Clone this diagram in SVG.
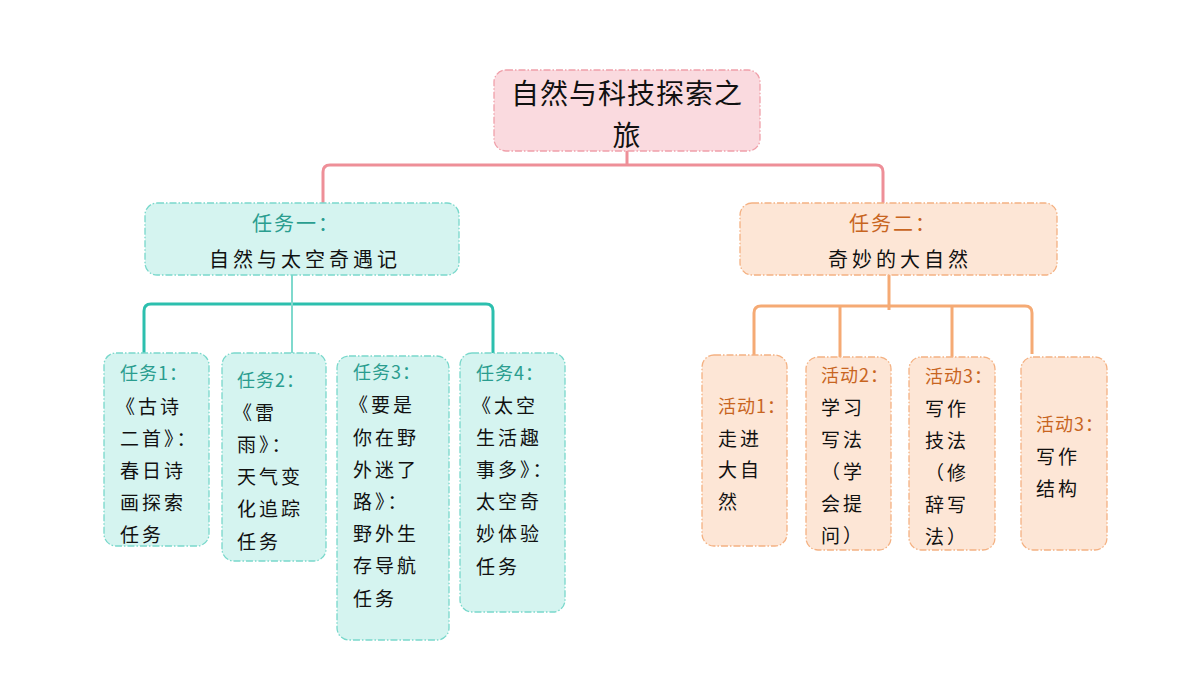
<svg xmlns="http://www.w3.org/2000/svg" width="1200" height="675" viewBox="0 0 1200 675">
<style>
text{font-family:"Noto Sans CJK SC","Noto Sans",sans-serif;dominant-baseline:central;}
.root rect{fill:#fadadf;stroke:#f0a0aa;stroke-width:1.3;stroke-dasharray:7 2 1.5 2;}
.teal rect{fill:#d5f4f0;stroke:#79d8cb;stroke-width:1.3;stroke-dasharray:7 2 1.5 2;}
.orng rect{fill:#fde6d6;stroke:#f4b182;stroke-width:1.3;stroke-dasharray:7 2 1.5 2;}
.rt{font-size:28px;fill:#111;letter-spacing:1px;}
.tt{font-size:20px;fill:#2a9d8f;letter-spacing:2px;}
.ot{font-size:20px;fill:#c8651f;letter-spacing:2px;}
.mt{font-size:20px;fill:#111;letter-spacing:4px;}
.h-t{font-size:18px;fill:#2a9d8f;letter-spacing:1px;}
.h-o{font-size:18px;fill:#c8651f;letter-spacing:1px;}
.b{font-size:19px;fill:#111;letter-spacing:3px;}
.c-p{fill:none;stroke:#ee8f98;stroke-width:3;}
.c-t{fill:none;stroke:#2cbfae;stroke-width:3;}
.c-t2{fill:none;stroke:#7fd9cd;stroke-width:2;}
.c-o{fill:none;stroke:#f5aa74;stroke-width:3;}
</style>
<rect width="1200" height="675" fill="#fff"/>
<g id="connectors">
<path class="c-p" d="M627,151 V165 M323,203 V172 Q323,165 330,165 H876 Q883,165 883,172 V203"/>
<path class="c-t" d="M144,354 V311 Q144,304 151,304 H486 Q493,304 493,311 V354"/>
<path class="c-t2" d="M292,275 V354"/>
<path class="c-o" d="M754,356 V313 Q754,306 761,306 H1025 Q1032,306 1032,313 V354 M889,275 V310 M840,306 V357 M952,306 V357"/>
</g>
<g id="root" class="root">
<rect x="494" y="70" width="266" height="81" rx="12"/>
<text class="rt" x="627" y="92" text-anchor="middle">自然与科技探索之</text>
<text class="rt" x="627" y="134" text-anchor="middle">旅</text>
</g>
<g id="task1" class="teal">
<rect x="145" y="203" width="314" height="72" rx="12"/>
<text class="tt" x="296" y="222" text-anchor="middle">任务一：</text>
<text class="mt" x="305" y="258" text-anchor="middle">自然与太空奇遇记</text>
</g>
<g id="task2" class="orng">
<rect x="740" y="203" width="317" height="72" rx="12"/>
<text class="ot" x="893" y="222" text-anchor="middle">任务二：</text>
<text class="mt" x="900" y="258" text-anchor="middle">奇妙的大自然</text>
</g>
<g id="t1" class="teal">
<rect x="104" y="353" width="105" height="193" rx="12"/>
<text class="h-t" x="120" y="372">任务1：</text>
<text class="b" x="116" y="405">《古诗</text>
<text class="b" x="120" y="437">二首》：</text>
<text class="b" x="120" y="469">春日诗</text>
<text class="b" x="120" y="501">画探索</text>
<text class="b" x="120" y="533">任务</text>
</g>
<g id="t2" class="teal">
<rect x="222" y="353" width="104" height="208" rx="12"/>
<text class="h-t" x="237" y="379">任务2：</text>
<text class="b" x="233" y="411">《雷</text>
<text class="b" x="237" y="443">雨》：</text>
<text class="b" x="237" y="475">天气变</text>
<text class="b" x="237" y="507">化追踪</text>
<text class="b" x="237" y="540">任务</text>
</g>
<g id="t3" class="teal">
<rect x="337" y="356" width="112" height="284" rx="12"/>
<text class="h-t" x="353" y="371">任务3：</text>
<text class="b" x="349" y="403">《要是</text>
<text class="b" x="353" y="436">你在野</text>
<text class="b" x="353" y="468">外迷了</text>
<text class="b" x="353" y="500">路》：</text>
<text class="b" x="353" y="532">野外生</text>
<text class="b" x="353" y="564">存导航</text>
<text class="b" x="353" y="597">任务</text>
</g>
<g id="t4" class="teal">
<rect x="460" y="353" width="105" height="259" rx="12"/>
<text class="h-t" x="476" y="372">任务4：</text>
<text class="b" x="472" y="404">《太空</text>
<text class="b" x="476" y="436">生活趣</text>
<text class="b" x="476" y="468">事多》：</text>
<text class="b" x="476" y="500">太空奇</text>
<text class="b" x="476" y="532">妙体验</text>
<text class="b" x="476" y="565">任务</text>
</g>
<g id="a1" class="orng">
<rect x="702" y="355" width="85" height="191" rx="12"/>
<text class="h-o" x="718" y="405">活动1：</text>
<text class="b" x="718" y="437">走进</text>
<text class="b" x="718" y="468">大自</text>
<text class="b" x="718" y="500">然</text>
</g>
<g id="a2" class="orng">
<rect x="806" y="357" width="85" height="193" rx="12"/>
<text class="h-o" x="821" y="374">活动2：</text>
<text class="b" x="821" y="406">学习</text>
<text class="b" x="821" y="438">写法</text>
<text class="b" x="821" y="470">（学</text>
<text class="b" x="821" y="502">会提</text>
<text class="b" x="821" y="534">问）</text>
</g>
<g id="a3" class="orng">
<rect x="909" y="357" width="86" height="193" rx="12"/>
<text class="h-o" x="925" y="375">活动3：</text>
<text class="b" x="925" y="407">写作</text>
<text class="b" x="925" y="439">技法</text>
<text class="b" x="925" y="471">（修</text>
<text class="b" x="925" y="503">辞写</text>
<text class="b" x="925" y="535">法）</text>
</g>
<g id="a4" class="orng">
<rect x="1021" y="357" width="86" height="193" rx="12"/>
<text class="h-o" x="1036" y="423">活动3：</text>
<text class="b" x="1036" y="455">写作</text>
<text class="b" x="1036" y="487">结构</text>
</g>
</svg>
